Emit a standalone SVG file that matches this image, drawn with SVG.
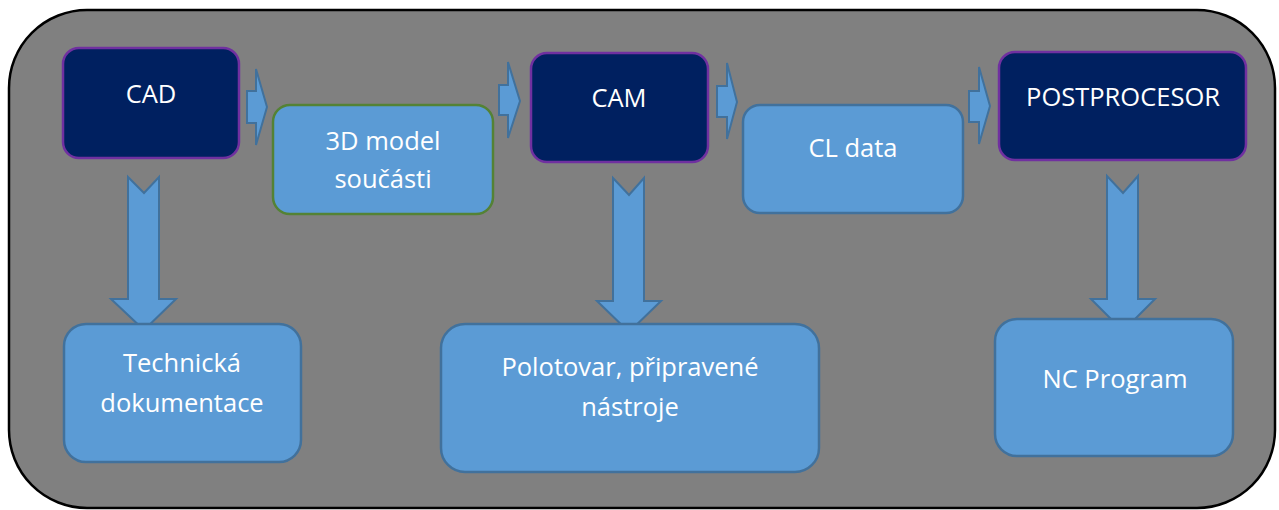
<svg xmlns="http://www.w3.org/2000/svg" width="1279" height="510" viewBox="0 0 1279 510">
<style>
.dark{fill:#002060;stroke:#7030A0;stroke-width:2.5}
.light{fill:#5B9BD5;stroke:#41719C;stroke-width:2.5}
.green{fill:#5B9BD5;stroke:#548235;stroke-width:2.5}
.arr{fill:#5B9BD5;stroke:#41719C;stroke-width:2;stroke-linejoin:miter}
text{font-family:"Open Sans","Noto Sans",sans-serif;font-size:25.5px;fill:#FFFFFF;text-anchor:middle}
</style>
<rect x="9" y="10" width="1266" height="498" rx="78" ry="78" fill="#808080" stroke="#000000" stroke-width="2.5"/>
<g id="connectors">
<path class="arr" d="M247,91 H256 V69 L267,107 L256,145 V123 H247 Z"/>
<path class="arr" d="M499,85 H508 V62 L520,101 L508,138 V115 H499 Z"/>
<path class="arr" d="M717,86 H727 V63 L737,102 L727,139 V117 H717 Z"/>
<path class="arr" d="M969,91 H979 V67 L990,106 L979,144 V122 H969 Z"/>
<path class="arr" d="M128,177 L144,193 L159,177 V299 H176 L144,330 L111,299 H128 Z"/>
<path class="arr" d="M613,178 L629,195 L644,178 V301 H661 L629,332 L597,301 H613 Z"/>
<path class="arr" d="M1107,176 L1123,193 L1138,176 V299 H1155 L1123,331 L1091,299 H1107 Z"/>
</g>
<g id="cad">
<rect class="dark" x="63" y="48" width="176" height="110" rx="16"/>
<text x="151" y="103">CAD</text>
</g>
<g id="model3d">
<rect class="green" x="273" y="105" width="220" height="109" rx="17"/>
<text x="383" y="150">3D model</text>
<text x="383" y="188">součásti</text>
</g>
<g id="cam">
<rect class="dark" x="531" y="53" width="177" height="109" rx="16"/>
<text x="619" y="107">CAM</text>
</g>
<g id="cldata">
<rect class="light" x="743" y="105" width="220" height="108" rx="17"/>
<text x="853" y="157">CL data</text>
</g>
<g id="postprocesor">
<rect class="dark" x="999" y="52" width="247" height="108" rx="16"/>
<text x="1123" y="106">POSTPROCESOR</text>
</g>
<g id="technicka">
<rect class="light" x="64" y="324" width="237" height="138" rx="22"/>
<text x="182" y="372">Technická</text>
<text x="182" y="412">dokumentace</text>
</g>
<g id="polotovar">
<rect class="light" x="441" y="324" width="378" height="148" rx="24"/>
<text x="630" y="376">Polotovar, připravené</text>
<text x="630" y="416">nástroje</text>
</g>
<g id="ncprogram">
<rect class="light" x="995" y="319" width="238" height="137" rx="22"/>
<text x="1115" y="388">NC Program</text>
</g>
</svg>
